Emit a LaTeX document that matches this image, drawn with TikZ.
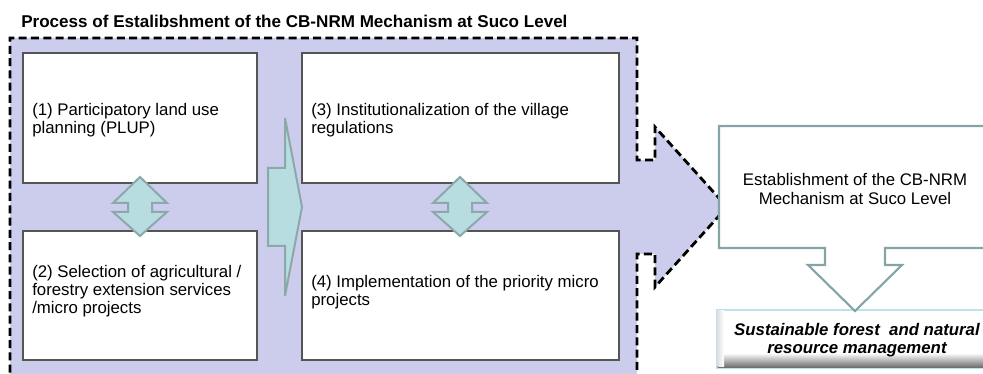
\documentclass[tikz,border=0pt]{standalone}
\usepackage{fontspec}
\setmainfont{Liberation Sans}
\definecolor{lav}{RGB}{204,204,236}
\definecolor{tealfill}{RGB}{183,221,224}
\definecolor{tealline}{RGB}{140,168,168}
\definecolor{callline}{RGB}{134,164,166}
\definecolor{boxline}{RGB}{85,85,85}
\definecolor{resline}{RGB}{190,226,234}
\tikzset{
  region/.style={fill=lav, draw=black, line width=2.1pt, dash pattern=on 6pt off 3.2pt, line join=miter},
  procbox/.style={fill=white, draw=boxline, line width=0.9pt},
  dblarrow/.style={fill=tealfill, draw=tealline, line width=1.5pt, line join=miter},
  callout/.style={fill=white, draw=callline, line width=1.6pt, line join=miter},
  txt/.style={font=\fontsize{12.6}{13.7}\selectfont, inner sep=0pt, align=left},
  ctxt/.style={font=\fontsize{12.6}{13.7}\selectfont, inner sep=0pt, align=center},
}
\begin{document}
\begin{tikzpicture}[x=0.75pt,y=-0.75pt]
\useasboundingbox (0,0) rectangle (983,374);
% title
\node[anchor=base west, inner sep=0pt, font=\fontsize{12.8}{13.7}\selectfont\bfseries] (title) at (21,28) {Process of Estalibshment of the CB-NRM Mechanism at Suco Level};
% lavender dashed region with arrow
\path[region] (10,385) -- (10,38) -- (637,38) -- (637,160) -- (655,160) -- (655,127) -- (727,207) -- (655,287) -- (655,254) -- (637,254) -- (637,385);
% process boxes
\path[procbox] (23,53) rectangle (257,183);
\path[procbox] (23,231) rectangle (257,360);
\path[procbox] (302,53) rectangle (619,183);
\path[procbox] (302,231) rectangle (619,360);
\node[txt, anchor=west] (t1) at (32,120) {(1) Participatory land use\\planning (PLUP)};
\node[txt, anchor=west] (t2) at (32,291) {(2) Selection of agricultural /\\forestry extension services\\/micro projects};
\node[txt, anchor=west] (t3) at (311,120) {(3) Institutionalization of the village\\regulations};
\node[txt, anchor=west] (t4) at (311,292) {(4) Implementation of the priority micro\\projects};
% up-down arrows
\foreach \cx in {140,460}{
  \path[dblarrow] (\cx,177) -- (\cx+27,203) -- (\cx+12,203) -- (\cx+12,212) -- (\cx+27,212) -- (\cx,236) -- (\cx-27,212) -- (\cx-12,212) -- (\cx-12,203) -- (\cx-27,203) -- cycle;
}
% big right arrow between columns
\path[dblarrow] (268,168) -- (285,168) -- (285,118) -- (302,207) -- (285,296) -- (285,246) -- (268,246) -- cycle;
% result box
\path[fill=white, draw=resline, line width=1pt] (717,310) rectangle (998,368);
\shade[top color=white, bottom color=black!60] (717.5,353) rectangle (998,368);
\shade[left color=black!12, right color=white] (717.5,311) rectangle (724,367);
% callout box with down arrow
\path[callout] (719,126) -- (998,126) -- (998,248) -- (885,248) -- (885,265) -- (902,265) -- (855,311) -- (808,265) -- (825,265) -- (825,248) -- (719,248) -- cycle;
\node[ctxt] (est) at (855,189) {Establishment of the CB-NRM\\Mechanism at Suco Level};
\node[ctxt, font=\fontsize{12.6}{13.7}\selectfont\bfseries\itshape] (res) at (857,340) {Sustainable forest\ \ and natural\\resource management};
\end{tikzpicture}
\end{document}
